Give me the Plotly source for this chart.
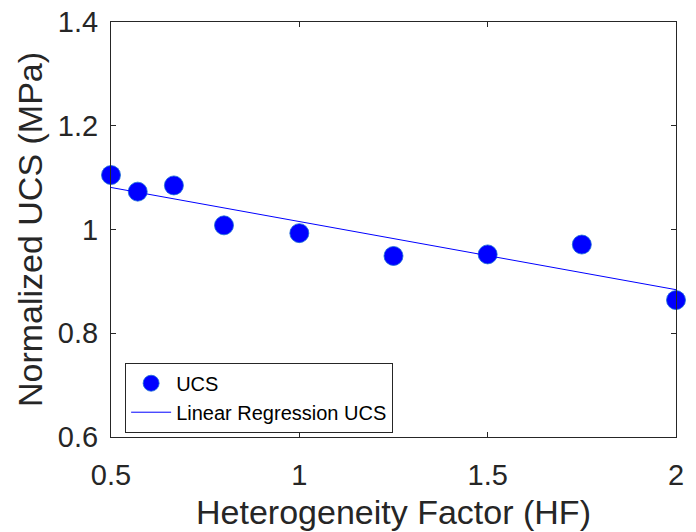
import plotly.graph_objects as go

hf = [0.5, 0.571, 0.667, 0.8, 1.0, 1.25, 1.5, 1.75, 2.0]
ucs = [1.105, 1.073, 1.085, 1.008, 0.993, 0.949, 0.952, 0.971, 0.864]
reg_x = [0.5, 2.0]
reg_y = [1.081, 0.884]

x_ticks = [0.5, 1, 1.5, 2]
x_ticktext = ["0.5", "1", "1.5", "2"]
y_ticks = [0.6, 0.8, 1.0, 1.2, 1.4]
y_ticktext = ["0.6", "0.8", "1", "1.2", "1.4"]

FONT = "Liberation Sans, Arial, sans-serif"
AX = "#262626"

fig = go.Figure()
fig.add_trace(go.Scatter(
    x=hf, y=ucs, mode="markers", name="UCS",
    marker=dict(size=19, color="#0000ff", line=dict(color="#1a6fd6", width=0.8)),
    cliponaxis=False,
))
fig.add_trace(go.Scatter(
    x=reg_x, y=reg_y, mode="lines", name="Linear Regression UCS",
    line=dict(color="#0000ff", width=1),
    cliponaxis=False,
))

axis_common = dict(
    showgrid=False, zeroline=False, showline=True, linecolor=AX, linewidth=1,
    mirror="ticks", ticks="inside", ticklen=5, tickcolor=AX,
    tickfont=dict(family=FONT, size=29, color=AX),
)
fig.update_xaxes(
    range=[0.5, 2], tickvals=x_ticks, ticktext=x_ticktext,
    title=dict(text="Heterogeneity Factor (HF)", font=dict(family=FONT, size=34, color=AX), standoff=10),
    ticklabelstandoff=12,
    **axis_common,
)
fig.update_yaxes(
    range=[0.6, 1.4], tickvals=y_ticks, ticktext=y_ticktext,
    title=dict(text="Normalized UCS (MPa)", font=dict(family=FONT, size=34, color=AX), standoff=4),
    ticklabelstandoff=6,
    **axis_common,
)
fig.update_layout(
    width=696, height=532,
    margin=dict(l=111, r=20, t=22, b=95, autoexpand=False),
    paper_bgcolor="white", plot_bgcolor="white",
    showlegend=True,
    legend=dict(
        x=0.025, y=0.179, xanchor="left", yanchor="top",
        bordercolor=AX, borderwidth=1, bgcolor="white",
        font=dict(family=FONT, size=20, color="black"),
        tracegroupgap=0, itemwidth=40,
    ),
)
fig.write_html("out.html")
